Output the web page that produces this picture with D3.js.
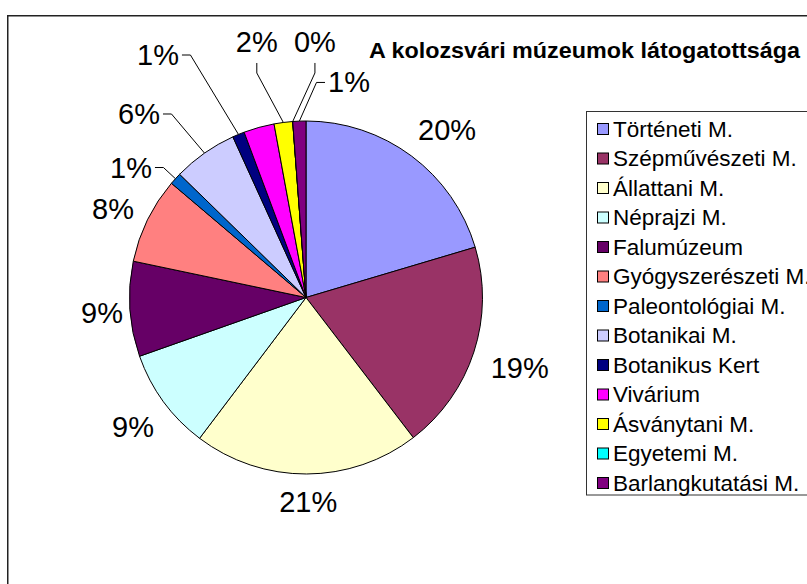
<!DOCTYPE html>
<html>
<head>
<meta charset="utf-8">
<script src="https://cdn.jsdelivr.net/npm/d3@7"></script>
<style>
  body { margin: 0; background: #fff; }
  svg { display: block; font-family: "Liberation Sans", Arial, sans-serif; }
</style>
</head>
<body>
<div id="chart"></div>
<script>
var width = 807;
var height = 584;

var title = 'A kolozsvári múzeumok látogatottsága';

var categories = ['Történeti M.', 'Szépművészeti M.', 'Állattani M.', 'Néprajzi M.', 'Falumúzeum',
  'Gyógyszerészeti M.', 'Paleontológiai M.', 'Botanikai M.', 'Botanikus Kert', 'Vivárium',
  'Ásványtani M.', 'Egyetemi M.', 'Barlangkutatási M.'];
var values = [20.4, 19.2, 20.7, 9.3, 8.7, 7.9, 1.1, 5.9, 1.1, 2.8, 1.7, 0, 1.2];
var colors = ['#9999FF', '#993366', '#FFFFCC', '#CCFFFF', '#660066', '#FF8080', '#0066CC',
  '#CCCCFF', '#000080', '#FF00FF', '#FFFF00', '#00FFFF', '#800080'];

// where each percentage label sits: [angle in degrees, distance from centre], null = hidden
var labelSpots = [[40.1, 219], [108.2, 225], [179.4, 204.5], [233.2, 216], [265.7, 204.6],
  [294.6, 212.3], [306.6, 218], [317.7, 248.1], [328.6, 284.1], null,
  [349.1, 260.2], [2.0, 255.7], [11.3, 219.3]];
var hasLeader = [0, 0, 0, 0, 0, 0, 1, 1, 1, 0, 1, 1, 1];

var cx = 306;
var cy = 297.5;
var radius = 176.5;

var svg = d3.select('#chart')
  .append('svg')
  .attr('width', width)
  .attr('height', height);

// chart area border (runs off the right and bottom edge)
svg.append('rect')
  .attr('x', 7.75)
  .attr('y', 15.75)
  .attr('width', 900)
  .attr('height', 700)
  .attr('fill', '#fff')
  .attr('stroke', '#222')
  .attr('stroke-width', 1.5);

svg.append('text')
  .attr('x', 369)
  .attr('y', 58)
  .attr('font-size', 22.5)
  .attr('font-weight', 'bold')
  .attr('textLength', 431)
  .attr('lengthAdjust', 'spacingAndGlyphs')
  .text(title);

var total = d3.sum(values);
var pie = d3.pie().sort(null).value(function(d) { return d; });
var arcs = pie(values);
var arc = d3.arc().innerRadius(0).outerRadius(radius);

var g = svg.append('g')
  .attr('transform', 'translate(' + cx + ',' + cy + ')');

g.selectAll('path')
  .data(arcs)
  .enter()
  .append('path')
  .attr('d', arc)
  .attr('fill', function(d, i) { return colors[i]; })
  .attr('stroke', '#000')
  .attr('stroke-width', 1)
  .attr('stroke-linejoin', 'round');

function polar(angleDeg, r) {
  var a = angleDeg * Math.PI / 180;
  return [r * Math.sin(a), -r * Math.cos(a)];
}

arcs.forEach(function(d, i) {
  var spot = labelSpots[i];
  if (!spot) return;
  var p = polar(spot[0], spot[1]);
  var label = g.append('text')
    .attr('x', p[0])
    .attr('y', p[1])
    .attr('text-anchor', 'middle')
    .attr('dominant-baseline', 'central')
    .attr('font-size', 29)
    .text(Math.round(d.value / total * 100) + '%');

  if (!hasLeader[i]) return;
  var mid = (d.startAngle + d.endAngle) / 2;
  var t = [radius * Math.sin(mid), -radius * Math.cos(mid)];
  var halfW = label.node().getComputedTextLength() / 2 + 3;
  var dx = t[0] - p[0];
  var dy = t[1] - p[1];
  var pts;
  if (Math.abs(dx) >= 0.9 * Math.abs(dy)) {
    var sx = dx > 0 ? 1 : -1;
    var x0 = p[0] + sx * halfW;
    pts = [[x0, p[1]], [x0 + sx * 8.5, p[1]], t];
  } else {
    var y0 = p[1] + 21;
    pts = [[p[0], y0], [p[0], y0 + 10], t];
  }
  g.append('path')
    .attr('d', d3.line()(pts))
    .attr('fill', 'none')
    .attr('stroke', '#000')
    .attr('stroke-width', 1);
});

// legend
var legendTop = 111.5;
var rowStep = 29.5;

svg.append('rect')
  .attr('x', 586.5)
  .attr('y', legendTop)
  .attr('width', 400)
  .attr('height', 383.5)
  .attr('fill', '#fff')
  .attr('stroke', '#333')
  .attr('stroke-width', 1);

var rows = svg.selectAll('.legend-row')
  .data(categories)
  .enter()
  .append('g')
  .attr('class', 'legend-row')
  .attr('transform', function(d, i) {
    return 'translate(0,' + (legendTop + 17.5 + i * rowStep) + ')';
  });

rows.append('rect')
  .attr('x', 597.5)
  .attr('y', -5.5)
  .attr('width', 11)
  .attr('height', 11)
  .attr('fill', function(d, i) { return colors[i]; })
  .attr('stroke', '#000')
  .attr('stroke-width', 1);

rows.append('text')
  .attr('x', 613)
  .attr('dominant-baseline', 'central')
  .attr('font-size', 22.5)
  .text(function(d) { return d; });
</script>
</body>
</html>
